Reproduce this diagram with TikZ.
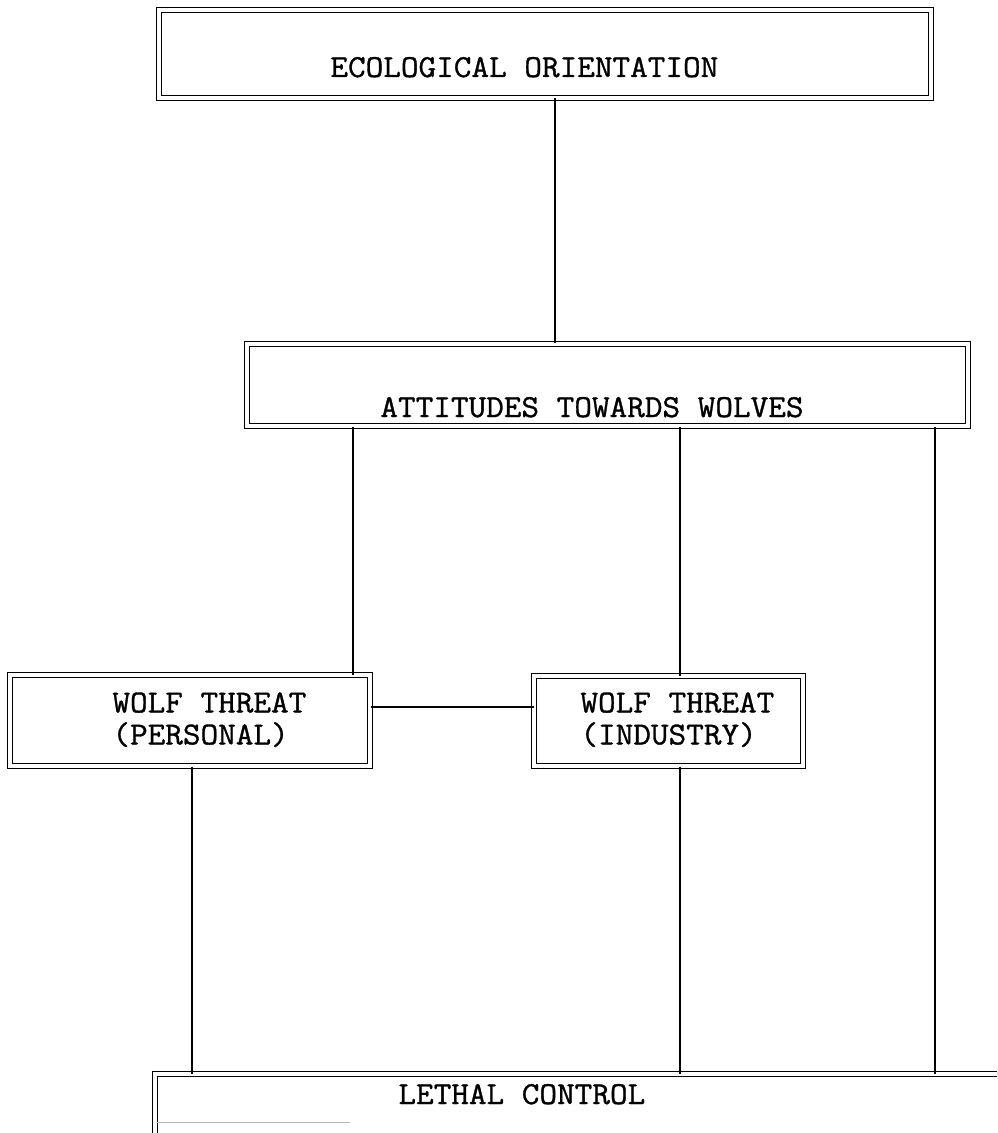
\documentclass[tikz,border=0pt]{standalone}
\usepackage{fontspec}
\newfontfamily\boxfont{Latin Modern Mono}[FakeBold=1,FakeStretch=1.07]
\begin{document}
\begin{tikzpicture}[x=0.5pt,y=-0.5pt,
  frame/.style={draw, line width=0.5pt, double, double distance=1.6pt,
    inner sep=0pt, fill=none},
  label text/.style={font=\boxfont\fontsize{16}{16}\selectfont, inner sep=0pt,
    align=left},
  link/.style={line width=0.9pt}]
\useasboundingbox (0,0) rectangle (997,1133);
\clip (0,0) rectangle (997,1133);

% boxes (double-ruled frames)
\node[frame, minimum width=386pt, minimum height=44pt]   (eco) at (545,54) {};
\node[frame, minimum width=360.5pt, minimum height=41pt] (att) at (607.5,385) {};
\node[frame, minimum width=180pt, minimum height=45.5pt] (wp)  at (190,720.5) {};
\node[frame, minimum width=134.5pt, minimum height=45pt] (wi)  at (668.5,721) {};
\node[frame, minimum width=427.5pt, minimum height=33pt] (lc)  at (582.5,1107) {};

% box captions
\node[label text, anchor=base west] (ecot) at (330,77)  {ECOLOGICAL ORIENTATION};
\node[label text, anchor=base west] (attt) at (380,417) {ATTITUDES TOWARDS WOLVES};
\node[label text, anchor=north west] (wpt) at (112,692) {WOLF THREAT\\(PERSONAL)};
\node[label text, anchor=north west] (wit) at (580,692) {WOLF THREAT\\(INDUSTRY)};
\node[label text, anchor=base west] (lct) at (398,1104) {LETHAL CONTROL};

% connectors
\draw[link] (555,0 |- eco.south) -- (555,0 |- att.north);
\draw[link] (353,0 |- att.south) -- (353,0 |- wp.north);
\draw[link] (680,0 |- att.south) -- (680,0 |- wi.north);
\draw[link] (935,0 |- att.south) -- (935,0 |- lc.north);
\draw[link] (wp.east |- 0,707) -- (wi.west |- 0,707);
\draw[link] (192,0 |- wp.south) -- (192,0 |- lc.north);
\draw[link] (680,0 |- wi.south) -- (680,0 |- lc.north);

% faded remnant of the lower rule of the last frame
\draw[gray!55, line width=0.5pt] (157,1122) -- (350,1122);
\end{tikzpicture}
\end{document}
